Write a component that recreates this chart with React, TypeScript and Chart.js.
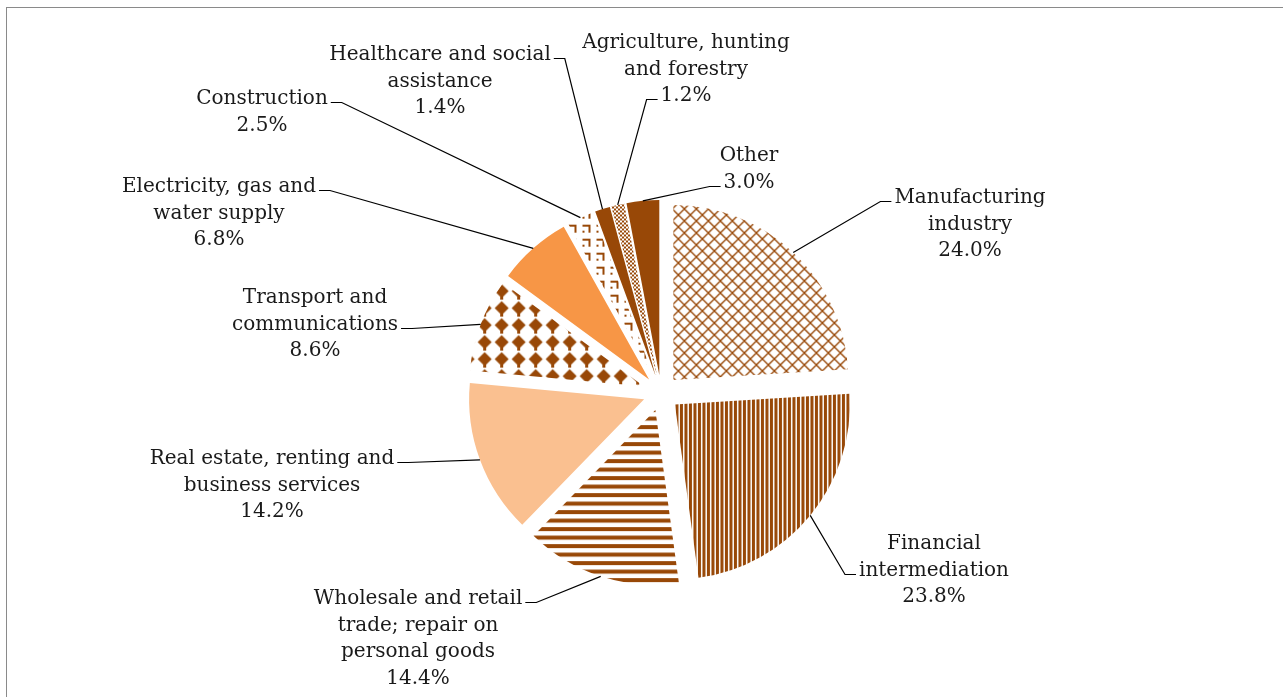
import React, { useEffect, useRef } from "react";
import { Chart, ArcElement, registerables } from "chart.js";

Chart.register(...registerables);

// ---- data ----
const categories: string[] = [
  "Manufacturing\nindustry",
  "Financial\nintermediation",
  "Wholesale and retail\ntrade; repair on\npersonal goods",
  "Real estate, renting and\nbusiness services",
  "Transport and\ncommunications",
  "Electricity, gas and\nwater supply",
  "Construction",
  "Healthcare and social\nassistance",
  "Agriculture, hunting\nand forestry",
  "Other",
];
const shares: number[] = [24.0, 23.8, 14.4, 14.2, 8.6, 6.8, 2.5, 1.4, 1.2, 3.0];

// fill style per slice
const fills: string[] = [
  "lattice",
  "vstripes",
  "hstripes",
  "#FAC090",
  "diamonds",
  "#F79646",
  "brackets",
  "#984807",
  "checker",
  "#984807",
];

// label placement relative to the pie centre (dx = text centre, dy = first baseline),
// which line the leader attaches to, and which side the tick sits on
const labelLayout = [
  { dx: 309, dy: -190, line: 0, tick: "left" },
  { dx: 273, dy: 156, line: 1, tick: "left" },
  { dx: -243, dy: 211, line: 0, tick: "right" },
  { dx: -389, dy: 71, line: 0, tick: "right" },
  { dx: -346, dy: -90, line: 1, tick: "right" },
  { dx: -442, dy: -201, line: 0, tick: "right" },
  { dx: -399, dy: -289, line: 0, tick: "right" },
  { dx: -221, dy: -333, line: 0, tick: "right" },
  { dx: 25, dy: -345, line: 2, tick: "left" },
  { dx: 88, dy: -232, line: 1, tick: "left" },
];

const BROWN = "#984807";
const FONT = '20px "DejaVu Serif"';
const LINE_H = 26.5;
const EXPLODE = 18;

function makeTile(
  ctx: CanvasRenderingContext2D,
  w: number,
  h: number,
  draw: (g: CanvasRenderingContext2D) => void
): CanvasPattern | string {
  const c = document.createElement("canvas");
  c.width = w;
  c.height = h;
  const g = c.getContext("2d")!;
  g.fillStyle = "#ffffff";
  g.fillRect(0, 0, w, h);
  g.fillStyle = BROWN;
  g.strokeStyle = BROWN;
  draw(g);
  return ctx.createPattern(c, "repeat") || BROWN;
}

function makeFill(ctx: CanvasRenderingContext2D, kind: string): CanvasPattern | string {
  switch (kind) {
    case "lattice":
      return makeTile(ctx, 12, 12, (g) => {
        g.lineWidth = 1.4;
        g.beginPath();
        g.moveTo(0, 6);
        g.lineTo(6, 0);
        g.lineTo(12, 6);
        g.lineTo(6, 12);
        g.closePath();
        g.stroke();
      });
    case "vstripes":
      return makeTile(ctx, 9, 4, (g) => {
        g.fillRect(0, 0, 3, 4);
        g.fillRect(4.5, 0, 3, 4);
      });
    case "hstripes":
      return makeTile(ctx, 4, 17, (g) => {
        g.fillRect(0, 0, 4, 4);
        g.fillRect(0, 8.5, 4, 4);
      });
    case "diamonds":
      return makeTile(ctx, 17, 17, (g) => {
        g.beginPath();
        g.moveTo(8.5, 1.5);
        g.lineTo(15.5, 8.5);
        g.lineTo(8.5, 15.5);
        g.lineTo(1.5, 8.5);
        g.closePath();
        g.fill();
        g.fillRect(7, 14, 3, 3);
      });
    case "brackets":
      return makeTile(ctx, 14, 14, (g) => {
        g.fillRect(2, 3, 8, 2);
        g.fillRect(8, 3, 2, 8);
        g.fillRect(2, 9, 2, 2);
      });
    case "checker":
      return makeTile(ctx, 4, 4, (g) => {
        g.fillRect(0, 0, 2, 2);
        g.fillRect(2, 2, 2, 2);
      });
    default:
      return kind;
  }
}

// pull each slice outwards along its bisector without changing its radius
const explodePlugin = {
  id: "explodeSlices",
  afterDatasetsUpdate(chart: any) {
    const meta = chart.getDatasetMeta(0);
    meta.data.forEach((arc: any) => {
      arc.draw = function (ctx: CanvasRenderingContext2D) {
        const half = (this.startAngle + this.endAngle) / 2;
        ctx.save();
        ctx.translate(Math.cos(half) * EXPLODE, Math.sin(half) * EXPLODE);
        ArcElement.prototype.draw.call(this, ctx);
        ctx.restore();
      };
    });
  },
};

const labelPlugin = {
  id: "pieLabels",
  beforeDraw(chart: any) {
    const ctx = chart.ctx as CanvasRenderingContext2D;
    ctx.save();
    ctx.strokeStyle = "#8a8a8a";
    ctx.lineWidth = 1;
    ctx.strokeRect(6.5, 7.5, 1400, 900);
    ctx.restore();
  },
  afterDraw(chart: any) {
    const ctx = chart.ctx as CanvasRenderingContext2D;
    const meta = chart.getDatasetMeta(0);
    const area = chart.chartArea;
    const cx = (area.left + area.right) / 2;
    const cy = (area.top + area.bottom) / 2;
    ctx.save();
    ctx.font = FONT;
    ctx.fillStyle = "#1a1a1a";
    ctx.textAlign = "center";
    ctx.textBaseline = "alphabetic";
    meta.data.forEach((arc: any, i: number) => {
      const p = arc.getProps(["x", "y", "startAngle", "endAngle", "outerRadius"], true);
      const mid = (p.startAngle + p.endAngle) / 2;
      const px = p.x + Math.cos(mid) * (EXPLODE + p.outerRadius);
      const py = p.y + Math.sin(mid) * (EXPLODE + p.outerRadius);
      const lay = labelLayout[i];
      const lines = categories[i].split("\n").concat([shares[i].toFixed(1) + "%"]);
      const lx = cx + lay.dx;
      const by = cy + lay.dy;
      lines.forEach((t, k) => ctx.fillText(t, lx, by + k * LINE_H));
      const w = ctx.measureText(lines[lay.line]).width;
      const ay = Math.round(by + lay.line * LINE_H - 2) + 0.5;
      let endX: number, elbowX: number;
      if (lay.tick === "right") {
        endX = lx + w / 2 + 3;
        elbowX = endX + 11;
      } else {
        endX = lx - w / 2 - 3;
        elbowX = endX - 11;
      }
      ctx.beginPath();
      ctx.strokeStyle = "#000000";
      ctx.lineWidth = 1.2;
      ctx.moveTo(px, py);
      ctx.lineTo(elbowX, ay);
      ctx.lineTo(endX, ay);
      ctx.stroke();
    });
    ctx.restore();
  },
};

export default function App() {
  const ref = useRef<HTMLCanvasElement | null>(null);
  useEffect(() => {
    const canvas = ref.current!;
    const ctx = canvas.getContext("2d")!;
    const bg = fills.map((f) => makeFill(ctx, f));
    const chart = new Chart(canvas, {
      type: "pie",
      data: {
        labels: categories.map((c) => c.replace(/\n/g, " ")),
        datasets: [
          {
            data: shares,
            backgroundColor: bg as any,
            borderWidth: 0,
            offset: 0,
          },
        ],
      },
      options: {
        responsive: false,
        animation: false,
        radius: 175,
        rotation: 0,
        layout: { padding: { left: 39, top: 89, right: 0, bottom: 0 } },
        plugins: {
          legend: { display: false },
          tooltip: { enabled: false },
        },
      } as any,
      plugins: [explodePlugin, labelPlugin],
    });
    return () => chart.destroy();
  }, []);
  return (
    <div style={{ position: "fixed", left: 0, top: 0, width: 1283, height: 697, background: "#fff" }}>
      <canvas ref={ref} width={1283} height={697} style={{ display: "block" }} />
    </div>
  );
}
